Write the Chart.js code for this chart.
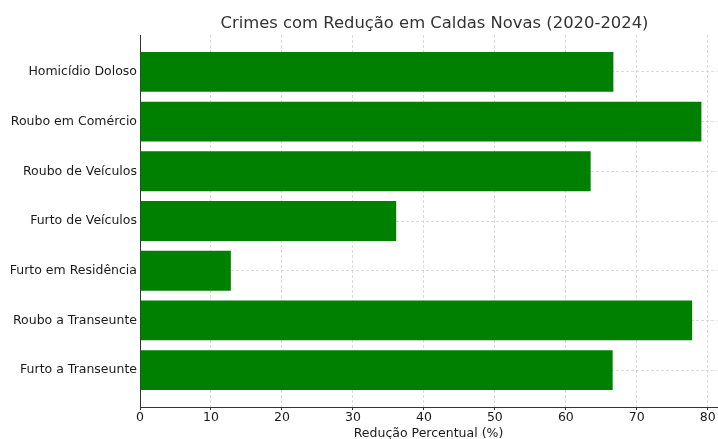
<!DOCTYPE html>
<html>
<head>
<meta charset="utf-8">
<script src="https://cdn.jsdelivr.net/npm/chart.js@4/dist/chart.umd.min.js"></script>
<style>
    body { margin: 0; background: #fff; }
    #wrap { width: 718px; height: 439px; }
</style>
</head>
<body>
<div id="wrap"><canvas id="chart"></canvas></div>
<script>
const chartTitle = "Crimes com Redução em Caldas Novas (2020-2024)";
const categories = [
    "Homicídio Doloso",
    "Roubo em Comércio",
    "Roubo de Veículos",
    "Furto de Veículos",
    "Furto em Residência",
    "Roubo a Transeunte",
    "Furto a Transeunte"
];
const reductionValues = [66.7, 79.1, 63.5, 36.1, 12.8, 77.8, 66.6];
const xTicks = [0, 10, 20, 30, 40, 50, 60, 70, 80];
const xLabel = "Redução Percentual (%)";

const FONT = "'DejaVu Sans', sans-serif";
const gridColor = 'rgba(195,195,195,0.6)';

// title centred over the plot area, like the original
const titlePlugin = {
    id: 'plotTitle',
    afterDraw(chart) {
        const { ctx, chartArea } = chart;
        ctx.save();
        ctx.font = "16.4px " + FONT;
        ctx.fillStyle = '#333';
        ctx.textAlign = 'center';
        ctx.textBaseline = 'middle';
        ctx.fillText(chartTitle, (chartArea.left + chartArea.right) / 2 + 6, 24);
        ctx.restore();
    }
};

new Chart(document.getElementById('chart').getContext('2d'), {
    type: 'bar',
    data: {
        datasets: [{
            data: categories.map((c, i) => ({ x: reductionValues[i], y: i })),
            backgroundColor: '#008000',
            borderWidth: 0,
            barPercentage: 0.8,
            categoryPercentage: 1
        }]
    },
    options: {
        indexAxis: 'y',
        responsive: true,
        maintainAspectRatio: false,
        animation: false,
        layout: { padding: { top: 35, right: 1, left: 0, bottom: 0 } },
        plugins: { legend: { display: false }, tooltip: { enabled: false } },
        scales: {
            x: {
                type: 'linear',
                min: 0,
                max: 81.3,
                z: 1,
                afterBuildTicks: axis => { axis.ticks = xTicks.map(v => ({ value: v })); },
                afterFit: axis => { axis.height = 32; },
                ticks: { color: '#1a1a1a', font: { family: FONT, size: 12.5 }, padding: 0, maxRotation: 0 },
                grid: { color: gridColor, tickColor: '#333', tickLength: 3, tickBorderDash: [] },
                border: { display: true, color: '#333', width: 1, dash: [3, 2] },
                title: { display: true, text: xLabel, color: '#1a1a1a', font: { family: FONT, size: 12.5 }, padding: { top: 0, bottom: -2 } }
            },
            y: {
                type: 'linear',
                min: -0.74,
                max: 6.74,
                reverse: true,
                offset: false,
                z: 1,
                afterBuildTicks: axis => { axis.ticks = categories.map((c, i) => ({ value: i })); },
                afterFit: axis => { axis.width = 140; },
                ticks: { color: '#1a1a1a', font: { family: FONT, size: 12.5 }, padding: 0, callback: v => categories[v] },
                grid: { offset: false, color: gridColor, tickColor: 'rgba(0,0,0,0)', tickLength: 3, tickBorderDash: [] },
                border: { display: true, color: '#333', width: 1, dash: [3, 2] }
            }
        }
    },
    plugins: [titlePlugin]
});
</script>
</body>
</html>
